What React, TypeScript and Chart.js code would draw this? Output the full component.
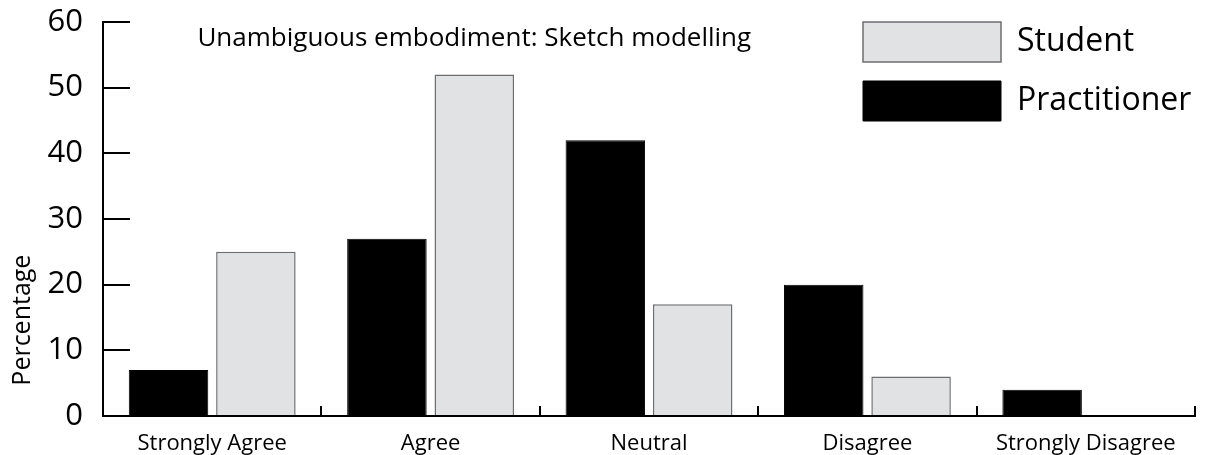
import React, { useEffect, useRef } from 'react';
import { Chart, registerables } from 'chart.js';

Chart.register(...registerables);

const categories = ['Strongly Agree', 'Agree', 'Neutral', 'Disagree', 'Strongly Disagree'];
const practitionerValues = [7, 27, 42, 20, 4];
const studentValues = [25, 52, 17, 6, 0];
const yTicks = [0, 10, 20, 30, 40, 50, 60];
const chartTitle = 'Unambiguous embodiment: Sketch modelling';
const yAxisTitle = 'Percentage';

const FONT = '"Open Sans", "Noto Sans", sans-serif';

const legendMover = {
  id: 'legendMover',
  afterLayout(chart: any) {
    const lg = chart.legend;
    if (!lg) return;
    lg.left = 844;
    lg.right = 1208;
    lg.width = lg.right - lg.left;
    lg.top = 3;
    lg.bottom = 455;
    lg.height = lg.bottom - lg.top;
  },
};

const overlayText = {
  id: 'overlayText',
  afterDraw(chart: any) {
    const { ctx, chartArea, scales } = chart;
    ctx.save();
    ctx.fillStyle = '#000';
    ctx.font = `26px ${FONT}`;
    ctx.textAlign = 'center';
    ctx.textBaseline = 'alphabetic';
    const tx = chartArea.left + (chartArea.right - chartArea.left) * 0.34;
    ctx.fillText(chartTitle, tx, chartArea.top + 24);

    ctx.font = `25px ${FONT}`;
    ctx.translate(30, scales.y.getPixelForValue(14.6));
    ctx.rotate(-Math.PI / 2);
    ctx.fillText(yAxisTitle, 0, 0);
    ctx.restore();
  },
};

export default function App() {
  const ref = useRef<HTMLCanvasElement | null>(null);

  useEffect(() => {
    if (!ref.current) return;
    const chart = new Chart(ref.current, {
      type: 'bar',
      data: {
        labels: categories,
        datasets: [
          {
            label: 'Practitioner',
            data: practitionerValues,
            backgroundColor: '#000000',
            borderColor: '#000000',
            borderWidth: 1,
            categoryPercentage: 0.8,
            barPercentage: 0.91,
          },
          {
            label: 'Student',
            data: studentValues,
            backgroundColor: '#e1e2e4',
            borderColor: '#6d6e70',
            borderWidth: 1.5,
            categoryPercentage: 0.8,
            barPercentage: 0.91,
          },
        ],
      },
      options: {
        animation: false,
        responsive: true,
        maintainAspectRatio: false,
        layout: { padding: { top: 22, right: 13, left: 0, bottom: 0 } },
        plugins: {
          tooltip: { enabled: false },
          title: { display: false },
          legend: {
            display: true,
            position: 'chartArea' as any,
            align: 'start',
            reverse: true,
            labels: {
              boxWidth: 138,
              boxHeight: 40,
              padding: 19,
              color: '#000',
              font: { family: FONT, size: 32 },
            },
          },
        },
        scales: {
          x: {
            offset: true,
            ticks: {
              color: '#000',
              font: { family: FONT, size: 22 },
              padding: 25,
              maxRotation: 0,
              autoSkip: false,
            },
            grid: {
              offset: true,
              drawOnChartArea: false,
              drawTicks: true,
              tickLength: -10,
              color: '#000',
              lineWidth: 2,
            },
            border: { display: true, color: '#000', width: 2 },
            afterFit: (s: any) => {
              s.height = 39;
              s.paddingLeft = 0;
              s.paddingRight = 0;
            },
          },
          y: {
            min: 0,
            max: 60,
            afterBuildTicks: (s: any) => {
              s.ticks = yTicks.map((v) => ({ value: v }));
            },
            ticks: {
              color: '#000',
              font: { family: FONT, size: 31 },
              padding: 47,
            },
            grid: {
              drawOnChartArea: false,
              drawTicks: true,
              tickLength: -27,
              color: '#000',
              lineWidth: 2,
            },
            border: { display: true, color: '#000', width: 2 },
            afterFit: (s: any) => {
              s.width = 103;
              s.paddingTop = 0;
              s.paddingBottom = 0;
            },
          },
        },
      },
      plugins: [legendMover, overlayText],
    });
    return () => chart.destroy();
  }, []);

  return (
    <div style={{ position: 'fixed', left: 0, top: 0, width: 1208, height: 455, background: '#fff' }}>
      <canvas ref={ref} />
    </div>
  );
}
